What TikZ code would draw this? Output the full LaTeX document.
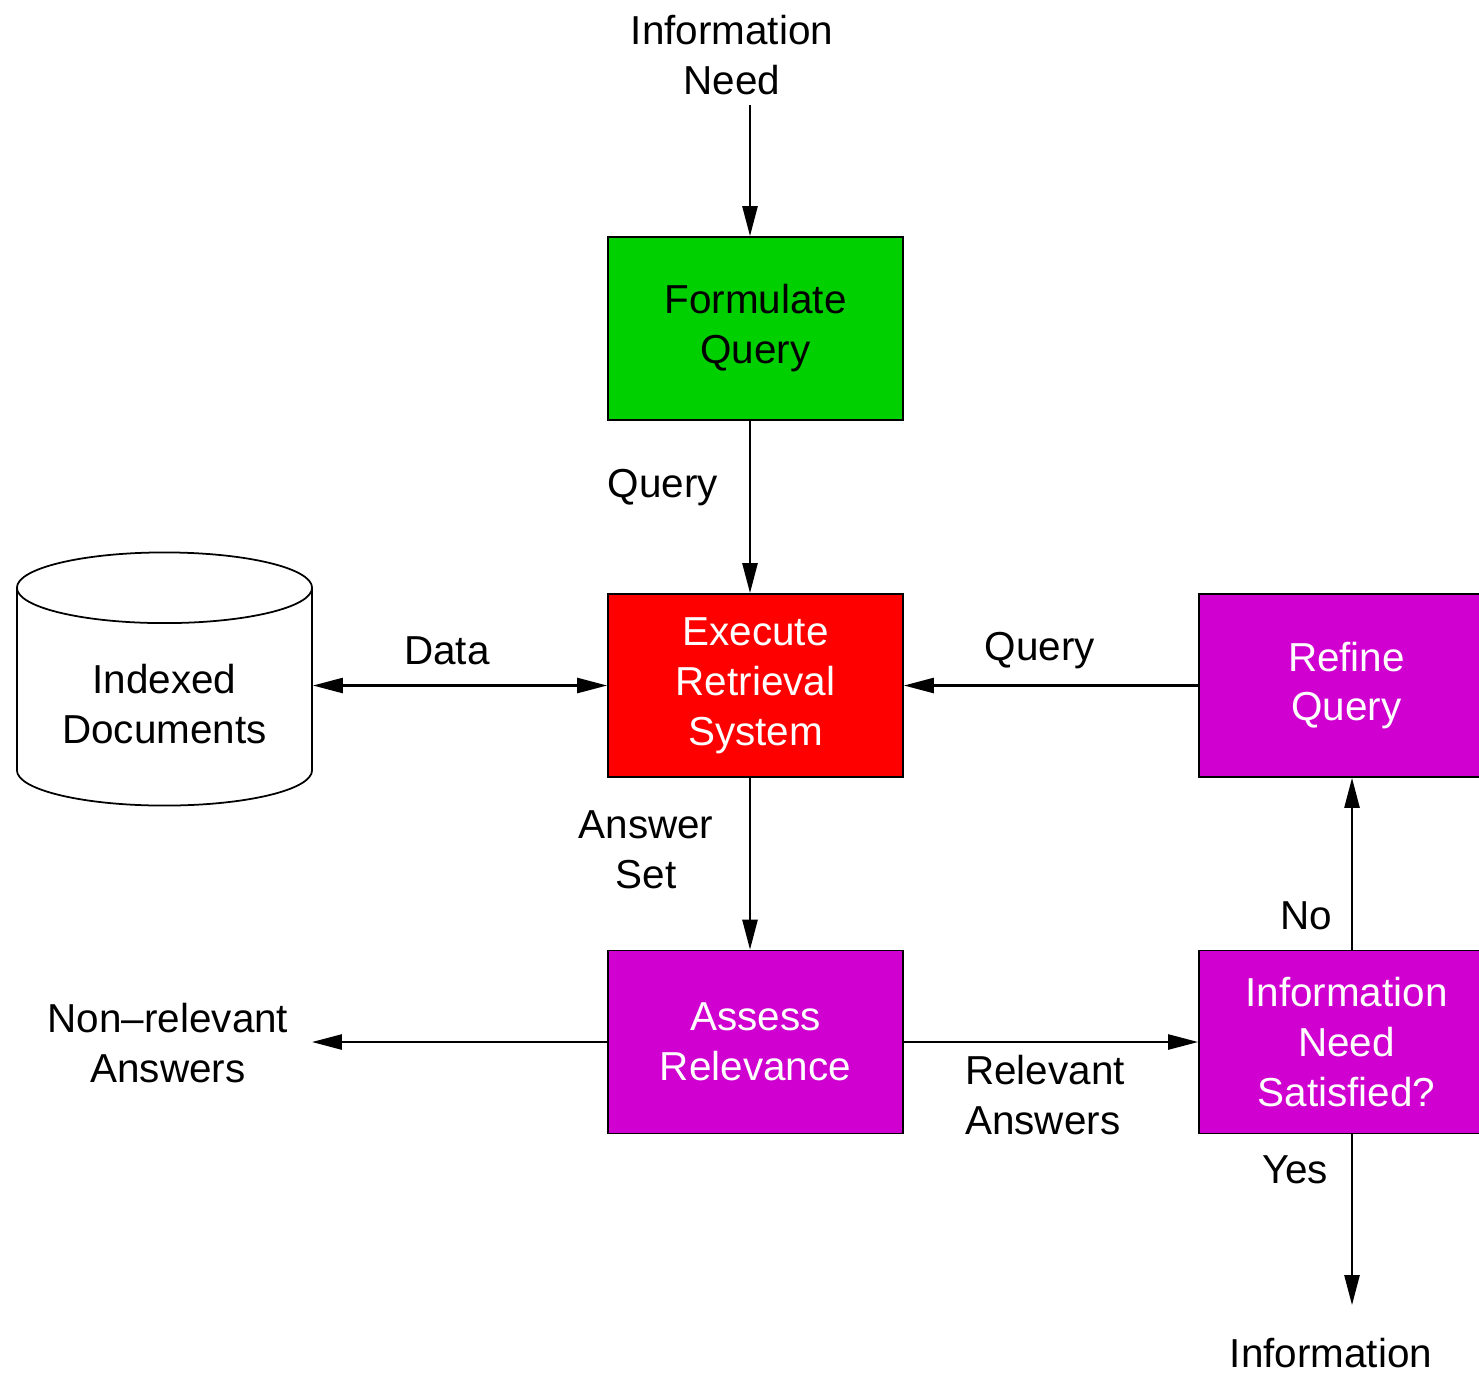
\documentclass[tikz,border=0pt]{standalone}
\usepackage{fontspec}
\setmainfont{Liberation Sans}
\usetikzlibrary{arrows.meta,shapes.geometric}
\definecolor{xgreen}{HTML}{00D000}
\definecolor{xred}{HTML}{FF0000}
\definecolor{xmagenta}{HTML}{D000D0}
\tikzset{
  every node/.style={font=\fontsize{11.5}{14.2}\selectfont},
  stepbox/.style={draw,line width=0.5pt,minimum width=2.95cm,minimum height=1.83cm,align=center},
  flow/.style={draw,line width=0.6pt,-{Triangle[length=8.5pt,width=4.3pt]}},
  tag/.style={align=center}}

\begin{document}
\begin{tikzpicture}[x=0.01cm,y=-0.01cm]
  \useasboundingbox (0,0) rectangle (1479,1372);
  \clip (0,0) rectangle (1479,1372);
  % steps
  \node [stepbox,fill=xgreen] (formulate) at (755.5,328.5) {Formulate\\Query};
  \node [stepbox,fill=xred,text=white] (execute) at (755.5,685.5) {Execute\\Retrieval\\System};
  \node [stepbox,fill=xmagenta,text=white] (assess) at (755.5,1042) {Assess\\Relevance};
  \node [stepbox,fill=xmagenta,text=white] (refine) at (1346.5,685.5) {Refine\\Query};
  \node [stepbox,fill=xmagenta,text=white] (satisfied) at (1346.5,1042) {Information\\Need\\Satisfied?};
  \node [draw,line width=0.5pt,cylinder,shape border rotate=90,aspect=0.31,
         minimum width=2.95cm,minimum height=2.53cm,align=center] (docs) at (164.5,704) {Indexed\\Documents};
  % free ends
  \coordinate (need) at (750,105);
  \coordinate (nonrel) at (312,1042);
  \coordinate (done) at (1352,1305);
  % connectors
  \draw [flow] (need) -- (need |- formulate.north);
  \draw [flow] (formulate.south -| need) -- (execute.north -| need);
  \draw [flow] (execute.south -| need) -- (assess.north -| need);
  \draw [flow,{Triangle[length=8.5pt,width=4.3pt]}-{Triangle[length=8.5pt,width=4.3pt]}] (docs.east |- execute) -- (execute);
  \draw [flow] (refine) -- (execute);
  \draw [flow] (assess) -- (nonrel);
  \draw [flow] (assess) -- (satisfied);
  \draw [flow] (satisfied.north -| done) -- (refine.south -| done);
  \draw [flow] (satisfied.south -| done) -- (done);
  % labels
  \node [tag] (needlbl) at (732,55) {Information\\Need};
  \node [tag] (querylbl) at (663,488) {Query};
  \node [tag] (datalbl) at (447,651) {Data};
  \node [tag] (refinelbl) at (1040,651) {Query};
  \node [tag] (answerlbl) at (646,850) {Answer\\Set};
  \node [tag] (nonrellbl) at (168,1043) {Non--relevant\\Answers};
  \node [tag,align=left] (rellbl) at (1045,1095) {Relevant\\Answers};
  \node [tag] (nolbl) at (1306,916) {No};
  \node [tag] (yeslbl) at (1295,1170) {Yes};
  \node [tag,anchor=base] (outlbl) at (1331,1367) {Information};
\end{tikzpicture}
\end{document}
